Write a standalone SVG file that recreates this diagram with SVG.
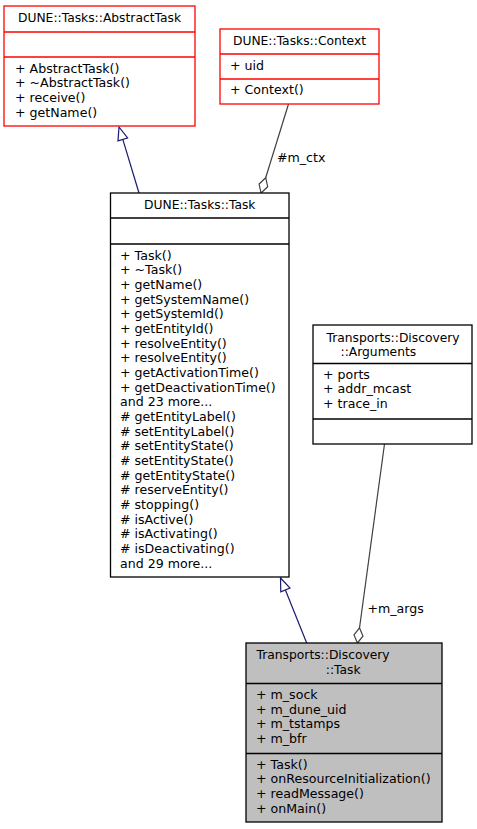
<svg xmlns="http://www.w3.org/2000/svg" width="477" height="829" viewBox="0 0 477 829">
<style>
text{font-family:"DejaVu Sans","Liberation Sans",sans-serif;font-size:12.6px;fill:#000}
.t{font-size:12.3px}
.c{text-anchor:middle}
.box{fill:#fff;stroke:#000;stroke-width:1.3}
.red{fill:#fff;stroke:#ff0000;stroke-width:1.3}
.grey{fill:#bfbfbf;stroke:#000;stroke-width:1.3}
.dv{stroke:#000;stroke-width:1.3}
.dvr{stroke:#ff0000;stroke-width:1.3}
.inh{stroke:#191970;stroke-width:1.2;fill:none}
.inhh{stroke:#191970;stroke-width:1.2;fill:#fff}
.comp{stroke:#404040;stroke-width:1.2;fill:none}
.comph{stroke:#404040;stroke-width:1.2;fill:#fff}
</style>
<rect width="477" height="829" fill="#fff"/>
<g id="connectors">
<path class="inh" d="M139,193 L122.8,139.4"/>
<polygon class="inhh" points="119,127 127.6,138 118,140.9"/>
<path class="inh" d="M306.7,643 L285.4,590"/>
<polygon class="inhh" points="280.5,578 290,588.1 280.8,591.9"/>
<path class="comp" d="M288.5,104 L265.7,177.7"/>
<polygon class="comph" points="261,193 259.1,184 265.7,177.7 267.7,186.7"/>
<text x="277" y="162">#m_ctx</text>
<path class="comp" d="M384.5,444 L359.5,628"/>
<polygon class="comph" points="357.4,643 354,634.9 359.5,628 363,636.1"/>
<text x="367.5" y="613">+m_args</text>
</g>
<g id="AbstractTask">
<rect class="red" x="4" y="6" width="191" height="120"/>
<line class="dvr" x1="4" y1="32" x2="195" y2="32"/>
<line class="dvr" x1="4" y1="57" x2="195" y2="57"/>
<text class="c t" x="99.5" y="22">DUNE::Tasks::AbstractTask</text>
<text x="15" y="72.7">+ AbstractTask()</text>
<text x="15" y="87.4">+ ~AbstractTask()</text>
<text x="15" y="102">+ receive()</text>
<text x="15" y="116.7">+ getName()</text>
</g>
<g id="Context">
<rect class="red" x="220" y="29" width="159" height="75"/>
<line class="dvr" x1="220" y1="54" x2="379" y2="54"/>
<line class="dvr" x1="220" y1="79" x2="379" y2="79"/>
<text class="c t" x="299.5" y="45">DUNE::Tasks::Context</text>
<text x="230" y="69.5">+ uid</text>
<text x="230" y="94">+ Context()</text>
</g>
<g id="Task">
<rect class="box" x="110.5" y="193" width="178.5" height="384"/>
<line class="dv" x1="110.5" y1="218" x2="289" y2="218"/>
<line class="dv" x1="110.5" y1="244" x2="289" y2="244"/>
<text class="c t" x="199.75" y="209">DUNE::Tasks::Task</text>
<text x="120" y="259.5">+ Task()</text>
<text x="120" y="274.2">+ ~Task()</text>
<text x="120" y="288.8">+ getName()</text>
<text x="120" y="303.5">+ getSystemName()</text>
<text x="120" y="318.2">+ getSystemId()</text>
<text x="120" y="332.9">+ getEntityId()</text>
<text x="120" y="347.5">+ resolveEntity()</text>
<text x="120" y="362.2">+ resolveEntity()</text>
<text x="120" y="376.9">+ getActivationTime()</text>
<text x="120" y="391.5">+ getDeactivationTime()</text>
<text x="120" y="406.2">and 23 more...</text>
<text x="120" y="420.9"># getEntityLabel()</text>
<text x="120" y="435.5"># setEntityLabel()</text>
<text x="120" y="450.2"># setEntityState()</text>
<text x="120" y="464.9"># setEntityState()</text>
<text x="120" y="479.6"># getEntityState()</text>
<text x="120" y="494.2"># reserveEntity()</text>
<text x="120" y="508.9"># stopping()</text>
<text x="120" y="523.6"># isActive()</text>
<text x="120" y="538.2"># isActivating()</text>
<text x="120" y="552.9"># isDeactivating()</text>
<text x="120" y="567.6">and 29 more...</text>
</g>
<g id="Arguments">
<rect class="box" x="313" y="325" width="159" height="119"/>
<line class="dv" x1="313" y1="363.5" x2="472" y2="363.5"/>
<line class="dv" x1="313" y1="419" x2="472" y2="419"/>
<text class="t" x="326.5" y="341.5">Transports::Discovery</text>
<text class="t" x="340.5" y="356">::Arguments</text>
<text x="323" y="378.5">+ ports</text>
<text x="323" y="393.2">+ addr_mcast</text>
<text x="323" y="407.8">+ trace_in</text>
</g>
<g id="DiscoveryTask">
<rect class="grey" x="246" y="643" width="196" height="179"/>
<line class="dv" x1="246" y1="683.5" x2="442" y2="683.5"/>
<line class="dv" x1="246" y1="753.5" x2="442" y2="753.5"/>
<text class="t" x="256.5" y="659">Transports::Discovery</text>
<text class="t" x="325.8" y="673.7">::Task</text>
<text x="256" y="698.8">+ m_sock</text>
<text x="256" y="713.5">+ m_dune_uid</text>
<text x="256" y="728.1">+ m_tstamps</text>
<text x="256" y="742.8">+ m_bfr</text>
<text x="256" y="768.5">+ Task()</text>
<text x="256" y="783.2">+ onResourceInitialization()</text>
<text x="256" y="797.8">+ readMessage()</text>
<text x="256" y="812.5">+ onMain()</text>
</g>
</svg>
